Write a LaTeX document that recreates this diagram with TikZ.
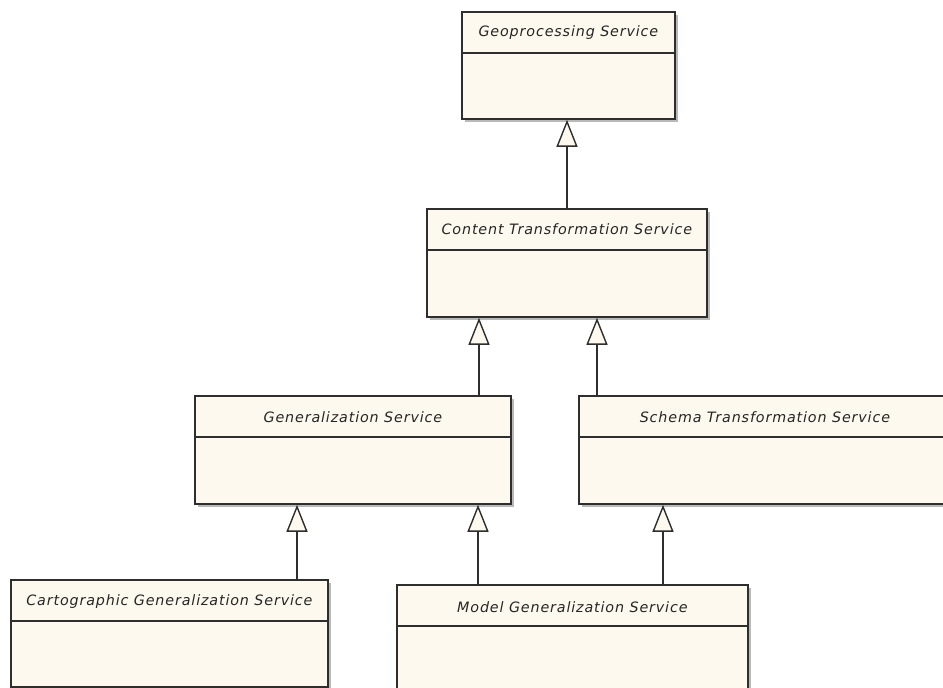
\documentclass[tikz,border=0pt]{standalone}
\usepackage{fontspec}
\setmainfont{DejaVu Sans}
\usetikzlibrary{arrows.meta,shadows}
\definecolor{cream}{HTML}{FDF9EE}
\definecolor{edge}{HTML}{2E2E2E}
\definecolor{shade}{HTML}{A8A8A8}
\tikzset{
  umlbox/.style={draw=edge, line width=1.8pt, fill=cream, anchor=north west, inner sep=0pt,
    drop shadow={shadow xshift=3pt, shadow yshift=-3pt, fill=shade, opacity=0.8}},
  sep/.style={draw=edge, line width=1.6pt},
  title/.style={text=black!85, font=\fontsize{14.3}{16}\selectfont\itshape\addfontfeatures{LetterSpace=6}},
  inh/.style={draw=edge, line width=1.6pt, -{Triangle[length=27pt, width=21pt, fill=cream, line width=1.4pt]}}
}
\begin{document}
\begin{tikzpicture}[x=1pt, y=-1pt]
\useasboundingbox (0,0) rectangle (943,688);
\clip (0,0) rectangle (943,688);
% boxes
\node[umlbox, minimum width=213pt, minimum height=107pt] (geo) at (461,11) {};
\node[umlbox, minimum width=280pt, minimum height=108pt] (cont) at (426,208) {};
\node[umlbox, minimum width=316pt, minimum height=108pt] (gen) at (194,395) {};
\node[umlbox, minimum width=372pt, minimum height=108pt] (sch) at (578,395) {};
\node[umlbox, minimum width=317pt, minimum height=107pt] (cart) at (10,579) {};
\node[umlbox, minimum width=351pt, minimum height=130pt] (mod) at (396,584) {};
% separators
\foreach \b in {geo,cont,gen,sch,cart,mod}{
  \draw[sep] ([yshift=-42pt]\b.north west) -- ([yshift=-42pt]\b.north east);
}
% titles
\node[title] (tgeo) at ([yshift=-22pt]geo.north) {Geoprocessing Service};
\node[title] (tcont) at ([yshift=-21pt]cont.north) {Content Transformation Service};
\node[title] (tgen) at ([yshift=-22pt]gen.north) {Generalization Service};
\node[title] (tsch) at ([yshift=-22pt]sch.north) {Schema Transformation Service};
\node[title] (tcart) at ([yshift=-23pt]cart.north) {Cartographic Generalization Service};
\node[title] (tmod) at ([yshift=-23pt]mod.north) {Model Generalization Service};
% inheritance connectors
\draw[inh] ([xshift=141pt]cont.north west) -- ([xshift=106pt]geo.south west);
\draw[inh] ([xshift=285pt]gen.north west) -- ([xshift=53pt]cont.south west);
\draw[inh] ([xshift=19pt]sch.north west) -- ([xshift=171pt]cont.south west);
\draw[inh] ([xshift=287pt]cart.north west) -- ([xshift=103pt]gen.south west);
\draw[inh] ([xshift=82pt]mod.north west) -- ([xshift=284pt]gen.south west);
\draw[inh] ([xshift=267pt]mod.north west) -- ([xshift=85pt]sch.south west);
\end{tikzpicture}
\end{document}
